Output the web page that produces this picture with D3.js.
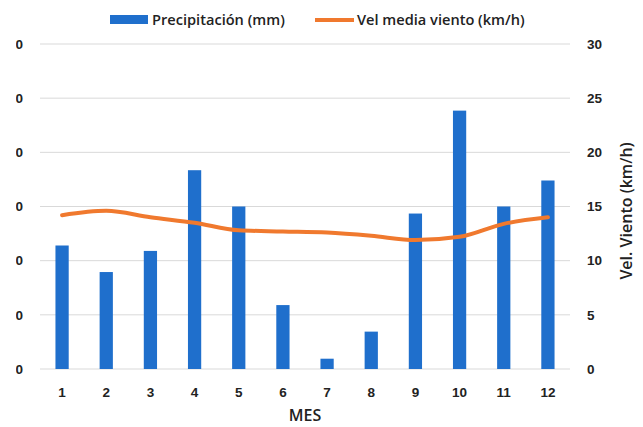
<!DOCTYPE html>
<html>
<head>
<meta charset="utf-8">
<script src="https://cdn.jsdelivr.net/npm/d3@7"></script>
<style>
  html, body { margin: 0; padding: 0; background: #fff; }
  svg { display: block; font-family: "Open Sans", "Noto Sans", sans-serif; }
</style>
</head>
<body>
<svg id="chart" width="643" height="427"></svg>
<script>
// Monthly precipitation (bars, left axis) and mean wind speed (line, right axis)
const months = ["1","2","3","4","5","6","7","8","9","10","11","12"];
const precipitation = [22.8, 17.9, 21.8, 36.7, 30.0, 11.8, 1.9, 6.9, 28.7, 47.7, 30.0, 34.8];
const windSpeed = [14.2, 14.6, 14.0, 13.5, 12.8, 12.7, 12.6, 12.3, 11.9, 12.2, 13.4, 14.0];
const leftTicks = [0, 10, 20, 30, 40, 50, 60];
const rightTicks = [0, 5, 10, 15, 20, 25, 30];

const W = 643, H = 427;
const margin = { top: 44, right: 73, bottom: 58, left: 40 };
const svg = d3.select("#chart");

const x = d3.scaleBand()
  .domain(months)
  .range([margin.left, W - margin.right])
  .paddingInner(0.7)
  .paddingOuter(0.35);

const yLeft = d3.scaleLinear().domain([0, 60]).range([H - margin.bottom, margin.top]);
const yRight = d3.scaleLinear().domain([0, 30]).range([H - margin.bottom, margin.top]);

// Horizontal gridlines
svg.append("g")
  .selectAll("line")
  .data(leftTicks)
  .join("line")
  .attr("x1", margin.left)
  .attr("x2", W - margin.right)
  .attr("y1", d => yLeft(d))
  .attr("y2", d => yLeft(d))
  .attr("stroke", "#d9d9d9")
  .attr("stroke-width", 1);

// Left axis labels, clipped to a narrow strip at the left edge
svg.append("defs").append("clipPath").attr("id", "leftClip")
  .append("rect").attr("x", 16).attr("y", 0).attr("width", 30).attr("height", H);

const leftAxis = svg.append("g")
  .attr("clip-path", "url(#leftClip)")
  .append("g")
  .attr("transform", `translate(23,0)`)
  .call(d3.axisLeft(yLeft).tickValues(leftTicks).tickSize(0).tickPadding(0));
leftAxis.select(".domain").remove();
leftAxis.selectAll("text")
  .attr("font-size", 13.5)
  .attr("font-weight", 600)
  .attr("fill", "#222");

// Right axis
const rightAxis = svg.append("g")
  .attr("transform", `translate(587,0)`)
  .call(d3.axisRight(yRight).tickValues(rightTicks).tickSize(0).tickPadding(0));
rightAxis.select(".domain").remove();
rightAxis.selectAll("text")
  .attr("font-size", 13.5)
  .attr("font-weight", 600)
  .attr("fill", "#222")
  .attr("text-anchor", "start");

// Bottom axis labels
const bottomAxis = svg.append("g")
  .attr("transform", `translate(0,${H - margin.bottom + 18})`)
  .call(d3.axisBottom(x).tickSize(0).tickPadding(0));
bottomAxis.select(".domain").remove();
bottomAxis.selectAll("text")
  .attr("font-size", 13.5)
  .attr("font-weight", 600)
  .attr("fill", "#222");

// Bars
svg.append("g")
  .selectAll("rect")
  .data(months.map((m, i) => ({ m, v: precipitation[i] })))
  .join("rect")
  .attr("x", d => x(d.m))
  .attr("width", x.bandwidth())
  .attr("y", d => yLeft(d.v))
  .attr("height", d => yLeft(0) - yLeft(d.v))
  .attr("fill", "#1f6fcc");

// Wind speed line
const line = d3.line()
  .x((d, i) => x(months[i]) + x.bandwidth() / 2)
  .y(d => yRight(d))
  .curve(d3.curveMonotoneX);

svg.append("path")
  .datum(windSpeed)
  .attr("d", line)
  .attr("fill", "none")
  .attr("stroke", "#f0792e")
  .attr("stroke-width", 4)
  .attr("stroke-linecap", "round")
  .attr("stroke-linejoin", "round");

// Axis titles
svg.append("text")
  .attr("x", (margin.left + W - margin.right) / 2)
  .attr("y", 421)
  .attr("text-anchor", "middle")
  .attr("font-size", 16)
  .attr("font-weight", 600)
  .attr("fill", "#222")
  .text("MES");

svg.append("text")
  .attr("transform", `translate(632,211) rotate(-90)`)
  .attr("text-anchor", "middle")
  .attr("font-size", 16)
  .attr("font-weight", 600)
  .attr("fill", "#222")
  .text("Vel. Viento (km/h)");

// Legend
const legend = svg.append("g");
legend.append("rect")
  .attr("x", 110).attr("y", 15).attr("width", 38).attr("height", 9)
  .attr("fill", "#1f6fcc");
legend.append("text")
  .attr("x", 152).attr("y", 25)
  .attr("font-size", 14.6).attr("font-weight", 600).attr("fill", "#222")
  .text("Precipitación (mm)");
legend.append("line")
  .attr("x1", 315).attr("x2", 354).attr("y1", 20).attr("y2", 20)
  .attr("stroke", "#f0792e").attr("stroke-width", 4);
legend.append("text")
  .attr("x", 357).attr("y", 25)
  .attr("font-size", 14.6).attr("font-weight", 600).attr("fill", "#222")
  .text("Vel media viento (km/h)");
</script>
</body>
</html>
